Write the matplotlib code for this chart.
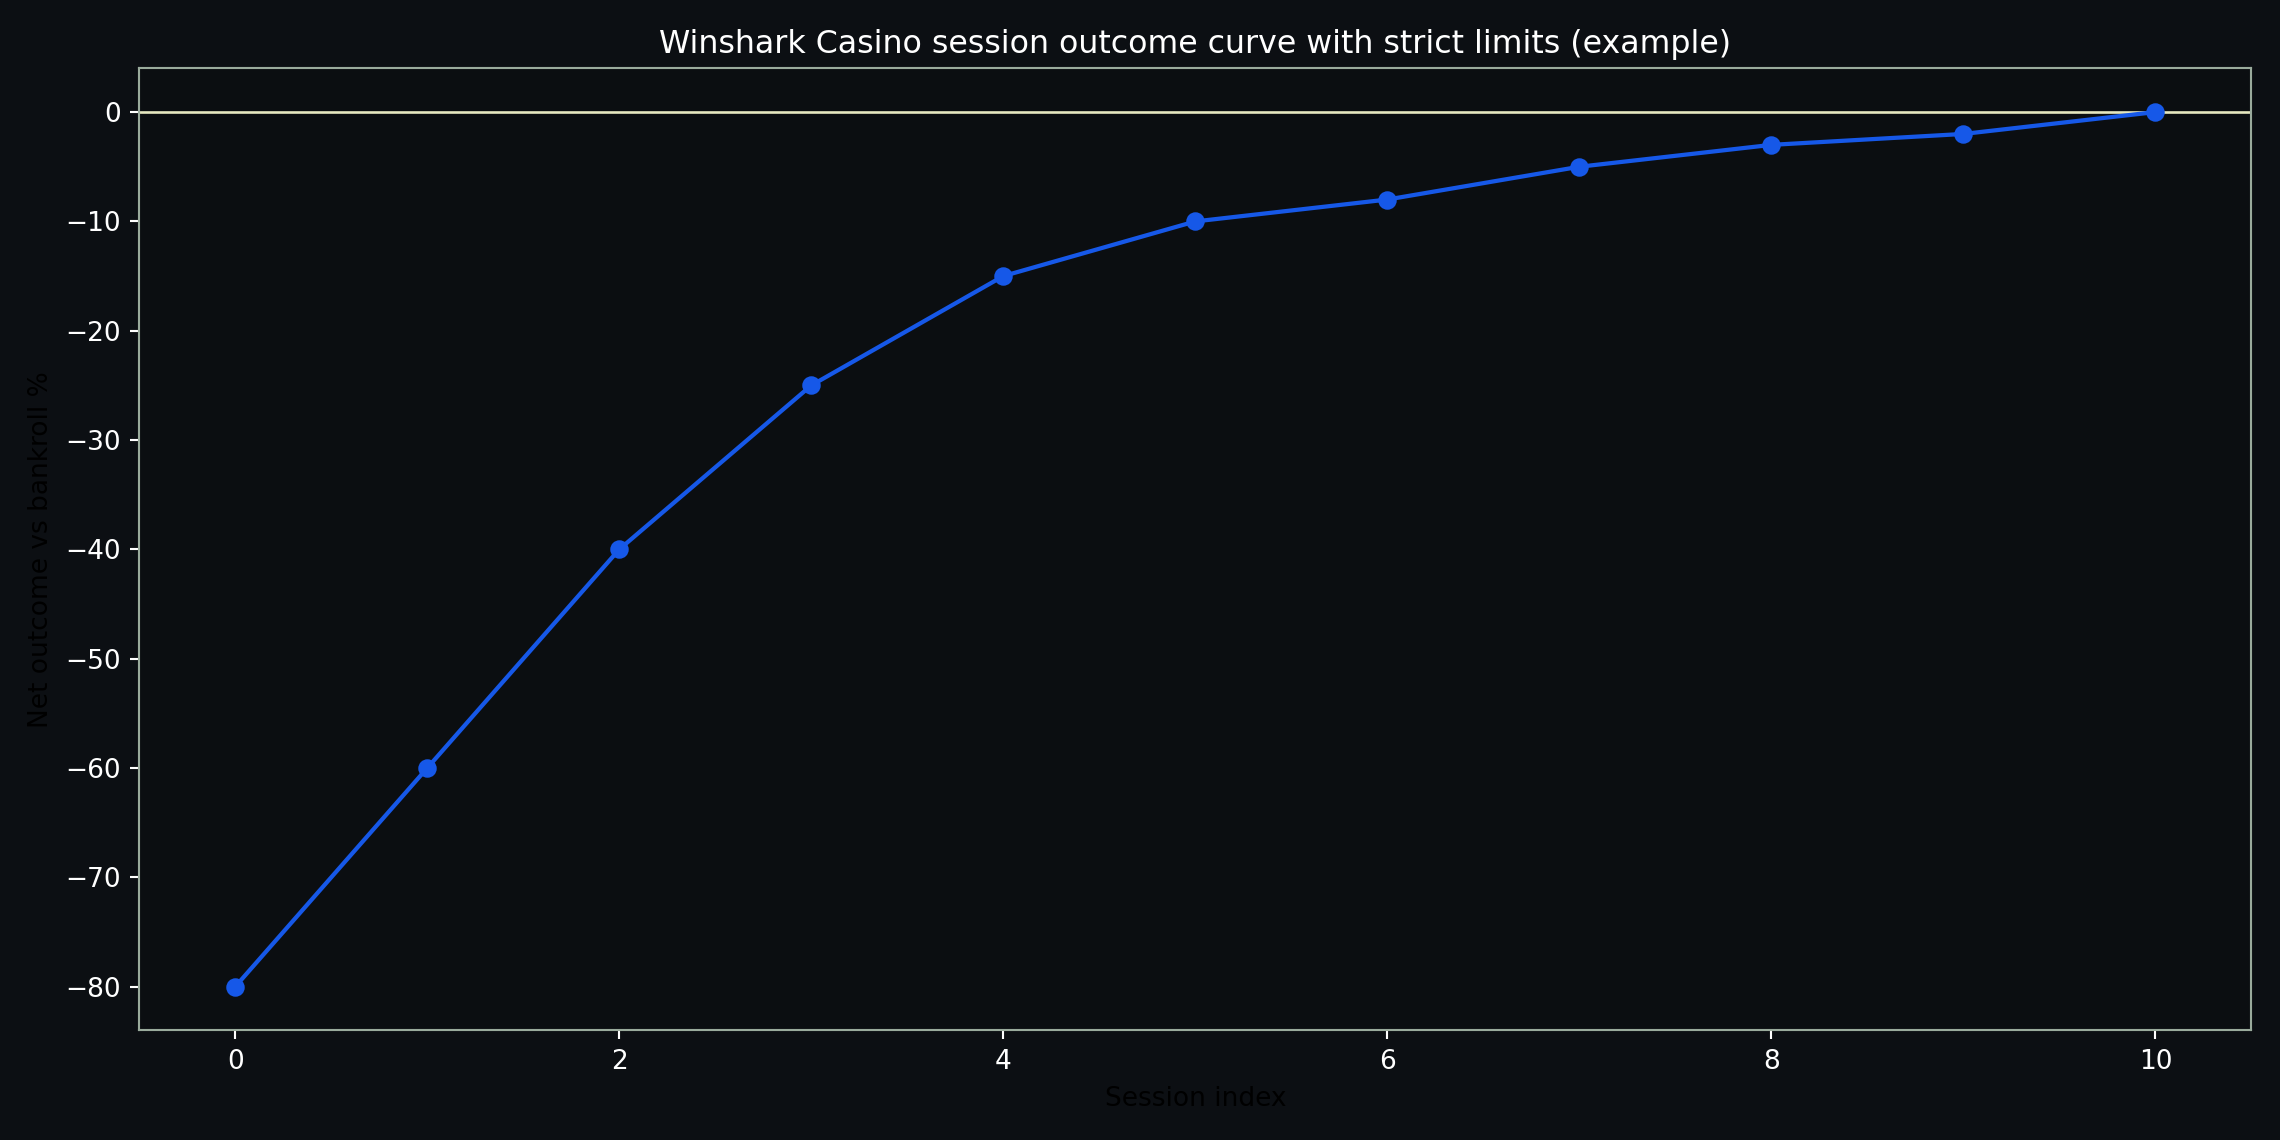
import matplotlib
matplotlib.use("Agg")
import matplotlib.pyplot as plt

sessions = [0, 1, 2, 3, 4, 5, 6, 7, 8, 9, 10]
net_outcome = [-80, -60, -40, -25, -15, -10, -8, -5, -3, -2, 0]

title = "Winshark Casino session outcome curve with strict limits (example)"
xlabel = "Session index"
ylabel = "Net outcome vs bankroll %"

fig_bg = "#0c0f13"
ax_bg = "#0b0e11"
fig, ax = plt.subplots(figsize=(12, 6), dpi=190)
fig.patch.set_facecolor(fig_bg)
ax.set_facecolor(ax_bg)

ax.axhline(0, color="#e6e8c0", linewidth=1.0, zorder=1)
ax.plot(sessions, net_outcome, color="#1658e8", linewidth=1.6, marker="o", markersize=6, zorder=3)

ax.set_title(title, color="white", fontsize=12)
ax.set_xlabel(xlabel, color="black", fontsize=10)
ax.set_ylabel(ylabel, color="black", fontsize=10)
ax.tick_params(colors="white", labelsize=10)
for s in ax.spines.values():
    s.set_color("#9aab9c")

fig.tight_layout()
fig.savefig("out.png", facecolor=fig_bg)
